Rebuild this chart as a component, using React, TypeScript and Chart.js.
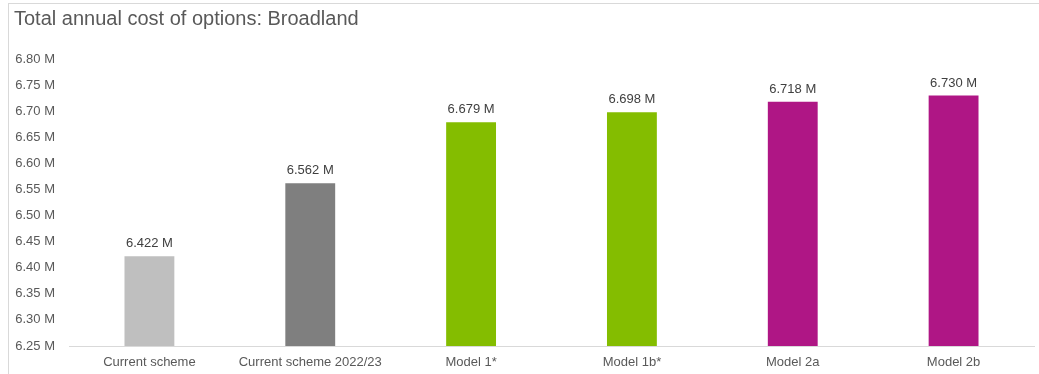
import React, { useEffect, useRef } from "react";
import { Chart, registerables } from "chart.js";

Chart.register(...registerables);

const titleText = "Total annual cost of options: Broadland";
const categories = [
  "Current scheme",
  "Current scheme 2022/23",
  "Model 1*",
  "Model 1b*",
  "Model 2a",
  "Model 2b",
];
const values = [6.422, 6.562, 6.679, 6.698, 6.718, 6.73];
const barColors = ["#BFBFBF", "#7F7F7F", "#84BD00", "#84BD00", "#AF1685", "#AF1685"];
const yMin = 6.25;
const yMax = 6.8;
const yStep = 0.05;

const FONT = "'Liberation Sans', Arial, sans-serif";

const dataLabelPlugin = {
  id: "dataLabels",
  afterDatasetsDraw(chart: any) {
    const ctx = chart.ctx;
    const meta = chart.getDatasetMeta(0);
    ctx.save();
    ctx.font = `13px ${FONT}`;
    ctx.fillStyle = "#404040";
    ctx.textAlign = "center";
    ctx.textBaseline = "alphabetic";
    meta.data.forEach((el: any, i: number) => {
      const v = chart.data.datasets[0].data[i] as number;
      ctx.fillText(v.toFixed(3) + " M", el.x, el.y - 9);
    });
    ctx.restore();
  },
};

const titlePlugin = {
  id: "customTitle",
  afterDraw(chart: any) {
    const ctx = chart.ctx;
    ctx.save();
    ctx.font = `20px ${FONT}`;
    ctx.fillStyle = "#595959";
    ctx.textAlign = "left";
    ctx.textBaseline = "alphabetic";
    ctx.fillText(titleText, 14, 25);
    ctx.restore();
  },
};

export default function App() {
  const ref = useRef<HTMLCanvasElement>(null);
  useEffect(() => {
    if (!ref.current) return;
    const chart = new Chart(ref.current, {
      type: "bar",
      data: {
        labels: categories,
        datasets: [
          {
            data: values,
            backgroundColor: barColors,
            barPercentage: 1,
            categoryPercentage: 0.31,
          },
        ],
      },
      options: {
        responsive: false,
        animation: false,
        devicePixelRatio: 1,
        layout: { padding: { top: 59, right: 5, bottom: 0, left: 0 } },
        plugins: {
          legend: { display: false },
          tooltip: { enabled: false },
          title: { display: false },
        },
        scales: {
          x: {
            grid: { display: false },
            border: { display: true, color: "#D9D9D9", width: 1 },
            afterFit(scale: any) {
              scale.height = 28;
            },
            ticks: {
              color: "#595959",
              font: { family: FONT, size: 13 },
              padding: 1,
              maxRotation: 0,
              autoSkip: false,
            },
          },
          y: {
            min: yMin,
            max: yMax,
            grid: { display: false },
            border: { display: false },
            afterFit(scale: any) {
              scale.width = 69;
            },
            ticks: {
              stepSize: yStep,
              color: "#595959",
              font: { family: FONT, size: 13 },
              padding: 6,
              callback: (v: any) => Number(v).toFixed(2) + " M",
            },
          },
        },
      },
      plugins: [dataLabelPlugin, titlePlugin],
    });
    return () => chart.destroy();
  }, []);

  return (
    <div style={{ position: "fixed", left: 0, top: 0, width: 1039, height: 374, overflow: "hidden", background: "#fff" }}>
      <div
        style={{
          position: "absolute",
          left: 8,
          top: 3,
          width: 1060,
          height: 400,
          border: "1px solid #D9D9D9",
        }}
      />
      <canvas ref={ref} width={1039} height={374} style={{ position: "absolute", left: 0, top: 0, width: 1039, height: 374 }} />
    </div>
  );
}
